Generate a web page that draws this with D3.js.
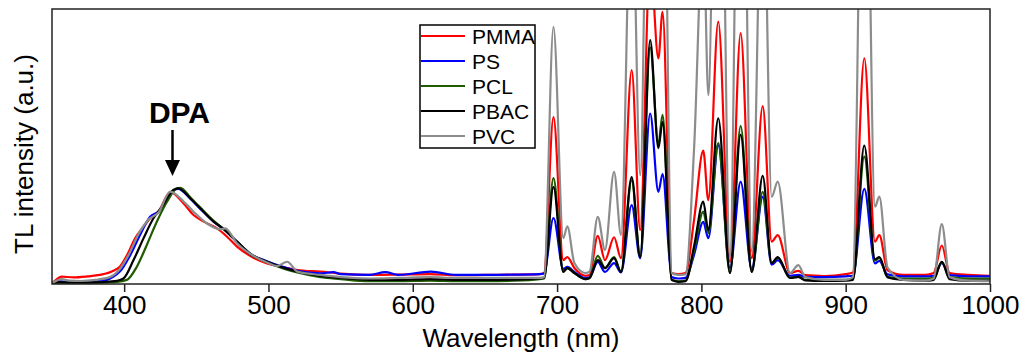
<!DOCTYPE html>
<html>
<head>
<meta charset="utf-8">
<script src="https://cdn.jsdelivr.net/npm/d3@7"></script>
<style>
  body { margin: 0; background: #fff; }
  svg { display: block; }
  text { font-family: "Liberation Sans", Arial, sans-serif; }
</style>
</head>
<body>
<svg id="chart" width="1025" height="353"></svg>
<script>
// series: [wavelength nm, TL intensity a.u.]
const seriesNames = ['PMMA', 'PS', 'PCL', 'PBAC', 'PVC'];
const seriesColors = ['#ff0000', '#0000ff', '#1f5c00', '#000000', '#8c8c8c'];
const xTicks = [400, 500, 600, 700, 800, 900, 1000];

const pmma = [
  [350,0.3],[353,1.6],[356.7,2.7],[365,2.4],[375,2.8],[383,3.3],[392.6,4.8],[397,6.3],[402,10.5],[407.6,16.6],[413.4,20.8],[418,23.9],[423.8,26.3],[432,33.4],[441.2,29.3],[448.1,25.1],[455.1,22.7],[464.4,20.2],[471.3,17.2],[478.2,13.6],[487.5,10.2],[499,7.5],[508.3,6.3],[520,5.1],[536,4.5],[550,3.8],[570,3.3],[590,3.4],[612,3.6],[630,3.2],[650,3.3],[670,3.4],[688,3.6],
  [691,4],[697.5,60.7],[704.3,8.7],[707.1,9.8],[712,5.8],[719.4,3],[722.5,3.3],[728.2,17.5],[733.2,8.7],[739.5,17],[744.3,9.4],[751.7,77.8],[757.6,19.6],[764.5,118],[770.2,82],[773.1,99],[779.4,4],[784,3.6],[789,4],[795,23.6],[801.3,48.5],[804.8,30.5],[811.7,95.4],[819.8,8],[827.2,91.2],[834.9,9.4],[842.5,64.7],[848.7,15.4],[852.9,17.8],[861.4,4],[867.2,4.8],[872,3.2],[885,2.9],[900,3.6],[905,4.2],[912.9,82.1],[920.3,15.4],[923.3,17.8],[929,5],[940,3.3],[955,3.3],[961,4],[966.6,14],[972,4],[985,3.3],[1000,3]
];
const ps = [
  [350,0.3],[355,1],[360,0.8],[370,0.8],[380,1],[388,1.5],[392.6,2.7],[397,4.5],[404.2,10.5],[411,17.8],[418,24.5],[423.8,26.3],[434.3,34],[437.5,34.6],[445.8,31],[452.8,27.3],[462,22.7],[469,19.9],[478.2,15.4],[487.5,11],[499,8.3],[508.3,6.5],[520,4.8],[536,3.9],[545,4.3],[550,3.6],[570,3.3],[581,4.3],[590,3.3],[612.5,4.5],[630,3.3],[650,3.3],[670,3.4],[688,3.6],
  [691,3.8],[697.5,24],[704.3,5.5],[707.1,6.2],[712,4.4],[719.4,2.2],[722.5,2.4],[728.2,8],[733.2,4.4],[739.5,7.6],[744.3,4.2],[751.7,28.7],[757.6,9.4],[764.5,62],[770.2,33.5],[773.1,40],[779.4,2.5],[784,2],[789,2.2],[795,10.8],[801.3,22.6],[804.8,16.7],[811.7,50.5],[819.8,5.8],[827.2,37.2],[834.9,5.5],[842.5,31.7],[848.7,7],[852.9,8.7],[861.4,3],[867.2,3.3],[872,2.6],[885,2.5],[900,2.8],[905,3],[912.9,34.6],[920.3,7.5],[923.3,8.4],[929,3.5],[940,2.8],[955,2.8],[961,3],[966.6,7.6],[972,3.2],[985,2.8],[1000,2.8]
];
const pcl = [
  [350,0.3],[360,0.5],[380,0.5],[395,0.8],[401.9,1.5],[408.8,6.3],[415.7,14.2],[422.7,22.7],[429.7,29.9],[436.6,34.8],[439,35],[445.8,31.5],[452.8,27.8],[462,23],[469,20],[478.2,15.4],[487.5,10.9],[499,8],[508.3,6],[520,4.2],[536,2.5],[550,1.8],[570,1],[590,1],[612,1.2],[630,1],[650,1],[670,1.2],[688,1.8],
  [691,2],[697.5,38.5],[704.3,4.4],[707.1,5.8],[712,4],[719.4,1.8],[722.5,2.2],[728.2,10.2],[733.2,5.8],[739.5,9.8],[744.3,4.4],[751.7,37.8],[757.6,9.8],[764.5,86],[770.2,51],[773.1,61.5],[779.4,1.5],[784,1],[789,1.2],[795,12.4],[801.3,26.3],[804.8,18.5],[811.7,51.2],[819.8,4],[827.2,57.4],[834.9,4.4],[842.5,33.5],[848.7,7.6],[852.9,9.5],[861.4,2.2],[867.2,2.6],[872,1.5],[885,1.5],[900,1.5],[905,1.8],[912.9,46.3],[920.3,8.5],[923.3,9.5],[929,2.5],[940,2],[955,2],[961,2.2],[966.6,8],[972,2.5],[985,2],[1000,2]
];
const pbac = [
  [350,0.3],[355,0.8],[360,0.5],[370,0.5],[380,0.6],[390,0.9],[395,1.2],[399.5,2],[406.5,8.7],[413.4,16.6],[420.3,23.9],[426.2,28.1],[434.1,34.2],[437.5,34.8],[445.8,31.2],[452.8,27.5],[462,22.7],[469,19.9],[478.2,15.4],[487.5,10.9],[499,8.1],[508.3,6.3],[520,4.5],[536,2.9],[550,2.2],[570,1.5],[590,1.5],[612,1.8],[630,1.5],[650,1.5],[670,1.6],[688,2],
  [691,2.2],[697.5,35.3],[704.3,4.4],[707.1,5.8],[712,4],[719.4,1.8],[722.5,2.2],[728.2,8.7],[733.2,5.8],[739.5,9.4],[744.3,4.4],[751.7,38.9],[757.6,9.8],[764.5,88.7],[770.2,49.4],[773.1,59],[779.4,1.5],[784,0.8],[789,1],[795,13.9],[801.3,30],[804.8,19.6],[811.7,60.2],[819.8,4],[827.2,54.2],[834.9,4.4],[842.5,39.3],[848.7,7.6],[852.9,9.8],[861.4,2.2],[867.2,2.6],[872,1.3],[885,1.1],[900,1.2],[905,1.5],[912.9,50.3],[920.3,9],[923.3,9.8],[929,2.5],[940,1.5],[955,1.2],[961,1.5],[966.6,8.1],[972,1.8],[985,1.2],[1000,1.2]
];
const pvc = [
  [350,0.3],[356.7,1.8],[362,1.2],[370,1.1],[380,1.5],[390,2.5],[396.5,5.1],[403,10.5],[410,18.2],[417,23.5],[423.8,26],[432,33.6],[441.2,30],[448.1,26.3],[457.4,22],[466.7,19.9],[470,20.2],[478.2,14.8],[487.5,10.9],[499,7.8],[506,6.5],[513,8.1],[520,4.5],[536,3.3],[550,2.5],[570,2],[590,2.2],[612,2.5],[630,2.2],[650,2.2],[670,2.2],[688,2.2],
  [691,2.5],[697.5,93.5],[704.3,16.7],[707.1,21],[712,7.6],[719.4,4],[722.5,4.5],[728.2,24.4],[733.2,12.4],[739.5,40.8],[744.3,17.8],[751.7,150],[757.6,39.6],[764.5,230],[770.2,160],[773.1,200],[779.4,4],[784,3.3],[789,3.5],[795,50],[801.3,130],[804.8,68.7],[811.7,250],[819.8,10],[827.2,240],[834.9,12],[842.5,160],[848.7,31.7],[852.9,37.2],[861.4,4],[867.2,6.9],[872,2.5],[885,1.5],[900,1.5],[905,2.5],[912.9,220],[920.3,28.1],[923.3,31.8],[929,6],[940,1.5],[955,1.2],[961,2],[966.6,21.8],[972,2.5],[985,1.2],[1000,1]
];
const seriesData = [pmma, ps, pcl, pbac, pvc];

const margin = { left: 52, right: 35, top: 9, bottom: 69 };
const W = 1025, H = 353;
const innerW = W - margin.left - margin.right;
const innerH = H - margin.top - margin.bottom;

const svg = d3.select('#chart');
const g = svg.append('g').attr('transform', 'translate(' + margin.left + ',' + margin.top + ')');

const x = d3.scaleLinear().domain([350, 1000]).range([0, innerW]);
const y = d3.scaleLinear().domain([0, 100]).range([innerH, 0]);

g.append('clipPath').attr('id', 'plotclip')
  .append('rect').attr('width', innerW).attr('height', innerH);

const line = d3.line()
  .x(d => x(d[0]))
  .y(d => y(d[1]))
  .curve(d3.curveMonotoneX);

const lines = g.append('g').attr('clip-path', 'url(#plotclip)');
seriesData.forEach((s, i) => {
  lines.append('path')
    .attr('d', line(s))
    .attr('fill', 'none')
    .attr('stroke', seriesColors[i])
    .attr('stroke-width', 2.2)
    .attr('stroke-linejoin', 'round');
});

// x axis, ticks outward
const xAxis = g.append('g')
  .attr('transform', 'translate(0,' + innerH + ')')
  .call(d3.axisBottom(x).tickValues(xTicks).tickFormat(d3.format('d'))
    .tickSize(8).tickSizeOuter(0).tickPadding(4));
xAxis.select('.domain').remove();
xAxis.selectAll('line').attr('stroke', '#222').attr('stroke-width', 1.5);
xAxis.selectAll('text').attr('font-size', 26).attr('fill', '#000')
  .attr('font-family', '"Liberation Sans", Arial, sans-serif');

// frame
g.append('rect')
  .attr('width', innerW).attr('height', innerH)
  .attr('fill', 'none').attr('stroke', '#222').attr('stroke-width', 1.5);

// titles
svg.append('text')
  .attr('x', margin.left + innerW / 2).attr('y', 347)
  .attr('text-anchor', 'middle').attr('font-size', 26)
  .text('Wavelength (nm)');
svg.append('text')
  .attr('transform', 'translate(33,' + (margin.top + 145) + ') rotate(-90)')
  .attr('text-anchor', 'middle').attr('font-size', 26)
  .text('TL intensity (a.u.)');

// DPA annotation
const ax = x(433.5);
g.append('text')
  .attr('x', ax + 7).attr('y', 114)
  .attr('text-anchor', 'middle').attr('font-size', 30).attr('font-weight', 'bold')
  .text('DPA');
g.append('line')
  .attr('x1', ax).attr('x2', ax).attr('y1', 121).attr('y2', 155)
  .attr('stroke', '#000').attr('stroke-width', 2.5);
g.append('path')
  .attr('d', 'M' + (ax - 7.5) + ',151 L' + (ax + 7.5) + ',151 L' + ax + ',167 Z')
  .attr('fill', '#000');

// legend
const legend = svg.append('g').attr('transform', 'translate(420,25)');
legend.append('rect')
  .attr('width', 115).attr('height', 123)
  .attr('fill', '#fff').attr('stroke', '#000').attr('stroke-width', 1.5);
seriesNames.forEach((name, i) => {
  const row = legend.append('g').attr('transform', 'translate(0,' + (11 + i * 25) + ')');
  row.append('line')
    .attr('x1', 1).attr('x2', 45)
    .attr('stroke', seriesColors[i]).attr('stroke-width', 2.2);
  row.append('text')
    .attr('x', 52).attr('y', 7.5)
    .attr('font-size', 21)
    .text(name);
});
</script>
</body>
</html>
